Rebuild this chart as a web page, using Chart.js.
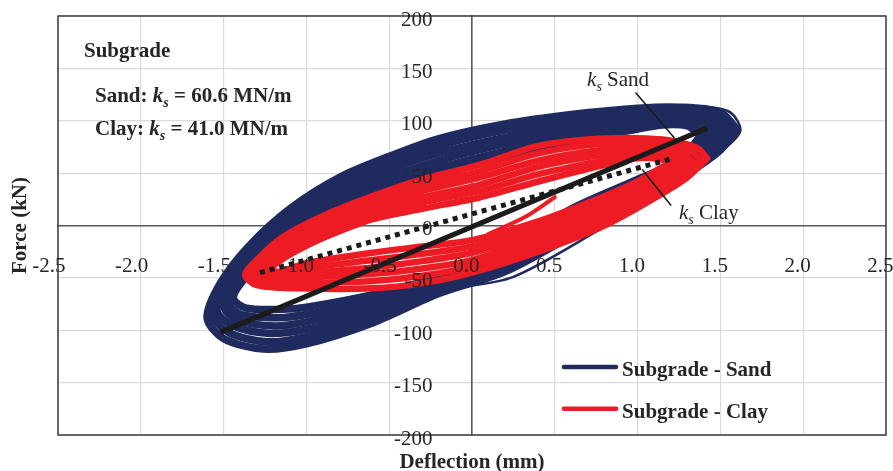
<!DOCTYPE html>
<html>
<head>
<meta charset="utf-8">
<title>Subgrade force–deflection loops</title>
<script src="https://cdn.jsdelivr.net/npm/chart.js@4.4.1/dist/chart.umd.min.js"></script>
<style>
  html, body { margin: 0; padding: 0; background: #ffffff; }
  #wrap { width: 893px; height: 471px; }
</style>
</head>
<body>
<div id="wrap"><canvas id="chart" width="893" height="471"></canvas></div>
<script>
// Axis ticks
const xTickValues = [-2.5, -2.0, -1.5, -1.0, -0.5, 0.0, 0.5, 1.0, 1.5, 2.0, 2.5];
const xTickLabels = ['-2.5', '-2.0', '-1.5', '-1.0', '-0.5', '0.0', '0.5', '1.0', '1.5', '2.0', '2.5'];
const yTickValues = [-200, -150, -100, -50, 0, 50, 100, 150, 200];
const yTickLabels = ['-200', '-150', '-100', '-50', '0', '50', '100', '150', '200'];

// Sand subgrade: load cycles, [deflection mm, force kN]
const sandCycle1 = [[1.60,92],[1.50,108],[1.25,113],[1.00,112],[0.60,106],[0.20,97],[-0.20,83],[-0.50,66],[-0.80,46],[-1.10,16],[-1.35,-20],[-1.52,-55],[-1.60,-88],[-1.50,-108],[-1.26,-118],[-1.00,-113],[-0.60,-93],[-0.20,-65],[0.20,-44],[0.60,-10],[1.00,26],[1.30,50],[1.50,72],[1.60,92]];
const sandCycle2 = [[1.56,91],[1.46,105],[1.23,110],[1.00,108],[0.60,101],[0.20,91],[-0.20,76],[-0.50,59],[-0.80,40],[-1.10,10],[-1.34,-23],[-1.50,-55],[-1.57,-84],[-1.47,-102],[-1.24,-111],[-1.00,-106],[-0.60,-88],[-0.20,-62],[0.20,-39],[0.60,-5],[1.00,30],[1.28,52],[1.46,72],[1.56,91]];
const sandCycle3 = [[1.51,90],[1.42,103],[1.21,106],[1.00,104],[0.60,96],[0.20,84],[-0.20,69],[-0.50,53],[-0.80,33],[-1.10,4],[-1.32,-26],[-1.47,-55],[-1.54,-81],[-1.44,-96],[-1.22,-103],[-1.00,-99],[-0.60,-83],[-0.20,-59],[0.20,-34],[0.60,0],[1.00,33],[1.26,53],[1.43,73],[1.51,90]];
const sandCycle4 = [[1.47,88],[1.38,100],[1.19,103],[1.00,100],[0.60,90],[0.20,78],[-0.20,62],[-0.50,46],[-0.80,27],[-1.10,-2],[-1.31,-30],[-1.45,-56],[-1.50,-77],[-1.42,-90],[-1.19,-96],[-1.00,-92],[-0.60,-77],[-0.20,-56],[0.20,-30],[0.60,6],[1.00,37],[1.24,55],[1.39,73],[1.47,88]];
const sandCycle5 = [[1.42,87],[1.34,98],[1.17,99],[1.00,96],[0.60,85],[0.20,71],[-0.20,55],[-0.50,40],[-0.80,20],[-1.10,-8],[-1.29,-33],[-1.42,-56],[-1.47,-74],[-1.39,-85],[-1.17,-88],[-1.00,-85],[-0.60,-72],[-0.20,-52],[0.20,-25],[0.60,11],[1.00,40],[1.22,56],[1.36,74],[1.42,87]];
const sandCycle6 = [[1.38,86],[1.30,95],[1.15,96],[1.00,92],[0.60,80],[0.20,65],[-0.20,48],[-0.50,33],[-0.80,14],[-1.10,-14],[-1.28,-36],[-1.40,-56],[-1.44,-70],[-1.36,-79],[-1.15,-80],[-1.00,-78],[-0.60,-66],[-0.20,-49],[0.20,-22],[0.60,16],[1.00,44],[1.20,58],[1.32,74],[1.38,86]];
const sandStray = [[-1.30,-117],[-0.80,-104],[-0.40,-78],[-0.15,-62],[0.25,-49],[0.77,-4],[1.07,24],[1.32,48],[1.50,70],[1.62,90],[1.56,108],[1.40,114]];

// Clay subgrade: load cycles, [deflection mm, force kN]
const clayCycle1 = [[1.42,64],[1.36,74],[1.15,82],[0.80,83],[0.40,76],[0.05,58],[-0.30,44],[-0.60,28],[-0.90,9],[-1.15,-12],[-1.30,-33],[-1.37,-47],[-1.30,-57],[-1.05,-60],[-0.60,-60],[-0.30,-55],[0.00,-45],[0.40,-25],[0.80,0],[1.10,26],[1.30,46],[1.42,64]];
const clayCycle2 = [[1.38,63],[1.31,72],[1.12,78],[0.79,78],[0.40,69],[0.05,52],[-0.30,38],[-0.60,24],[-0.90,5],[-1.14,-15],[-1.28,-34],[-1.34,-46],[-1.27,-54],[-1.04,-55],[-0.60,-53],[-0.30,-48],[0.00,-39],[0.40,-19],[0.80,6],[1.08,29],[1.27,48],[1.38,63]];
const clayCycle3 = [[1.33,62],[1.26,70],[1.08,75],[0.78,72],[0.40,62],[0.05,46],[-0.30,33],[-0.60,19],[-0.90,1],[-1.12,-18],[-1.25,-34],[-1.31,-45],[-1.24,-52],[-1.03,-50],[-0.60,-46],[-0.30,-41],[0.00,-33],[0.40,-13],[0.80,11],[1.06,32],[1.23,49],[1.33,62]];
const clayCycle4 = [[1.29,62],[1.22,68],[1.05,71],[0.77,67],[0.40,56],[0.05,39],[-0.30,27],[-0.60,15],[-0.90,-4],[-1.11,-20],[-1.23,-35],[-1.28,-44],[-1.22,-49],[-1.02,-46],[-0.60,-40],[-0.30,-34],[0.00,-26],[0.40,-8],[0.80,17],[1.04,36],[1.20,51],[1.29,62]];
const clayCycle5 = [[1.24,61],[1.17,66],[1.01,68],[0.76,61],[0.40,49],[0.05,33],[-0.30,22],[-0.60,10],[-0.90,-8],[-1.09,-23],[-1.20,-35],[-1.25,-43],[-1.19,-47],[-1.01,-41],[-0.60,-33],[-0.30,-27],[0.00,-20],[0.40,-2],[0.80,22],[1.02,39],[1.16,52],[1.24,61]];
const clayCycle6 = [[1.20,60],[1.12,64],[0.98,64],[0.75,56],[0.40,42],[0.05,27],[-0.30,16],[-0.60,6],[-0.90,-12],[-1.08,-26],[-1.18,-36],[-1.22,-42],[-1.16,-44],[-1.00,-36],[-0.60,-26],[-0.30,-20],[0.00,-14],[0.40,4],[0.80,28],[1.00,42],[1.13,54],[1.20,60]];
const clayTail = [[0.10,-8],[0.32,8],[0.50,27]];

// Secant stiffness lines and their callout leaders
const ksSandLine = [[-1.52,-102],[1.42,93]];
const ksClayLine = [[-1.28,-45],[1.21,64]];
const ksSandLeader = [[0.99,126.5],[1.22,84]];
const ksClayLeader = [[1.03,53],[1.20,19.5]];

const seriesNames = ['Subgrade - Sand', 'Subgrade - Clay'];
const SAND = '#1f2a5e';
const CLAY = '#ed1c24';
const INK = '#1b1b1b';
const SERIF = '"Liberation Serif", "Times New Roman", serif';

function toXY(pts) { return pts.map(p => ({ x: p[0], y: p[1] })); }

function trace(pts, color, width, order, extra) {
  return Object.assign({
    data: toXY(pts),
    showLine: true,
    borderColor: color,
    backgroundColor: color,
    borderWidth: width,
    pointRadius: 0,
    pointHoverRadius: 0,
    tension: 0.3,
    fill: false,
    borderJoinStyle: 'round',
    borderCapStyle: 'round',
    order: order
  }, extra || {});
}

const datasets = [
  trace(ksSandLine, INK, 5, 0, { tension: 0, borderCapStyle: 'butt' }),
  trace(ksClayLine, INK, 5, 0, { tension: 0, borderCapStyle: 'butt', borderDash: [5, 5] }),
  trace(ksSandLeader, INK, 1.6, 0, { tension: 0 }),
  trace(ksClayLeader, INK, 1.6, 0, { tension: 0 }),
  trace(clayCycle1, CLAY, 6.5, 1),
  trace(clayCycle2, CLAY, 6.5, 1),
  trace(clayCycle3, CLAY, 6.5, 1),
  trace(clayCycle4, CLAY, 6.5, 1),
  trace(clayCycle5, CLAY, 6.5, 1),
  trace(clayCycle6, CLAY, 6.5, 1),
  trace(clayTail, CLAY, 4, 1),
  trace(sandCycle1, SAND, 7.5, 2),
  trace(sandCycle2, SAND, 7.5, 2),
  trace(sandCycle3, SAND, 7.5, 2),
  trace(sandCycle4, SAND, 7.5, 2),
  trace(sandCycle5, SAND, 7.5, 2),
  trace(sandCycle6, SAND, 7.5, 2),
  trace(sandStray, SAND, 2.5, 2)
];

// Draws runs of text with different fonts on one baseline
function richText(ctx, x, y, parts) {
  let cx = x;
  parts.forEach(p => {
    ctx.font = p.font;
    ctx.fillText(p.text, cx, y + (p.dy || 0));
    cx += ctx.measureText(p.text).width;
  });
}

const decorations = {
  id: 'decorations',
  afterDraw(chart) {
    const { ctx, chartArea: a, scales } = chart;
    const xs = scales.x, ys = scales.y;
    const zx = xs.getPixelForValue(0);
    const zy = ys.getPixelForValue(0);
    ctx.save();

    // plot frame
    ctx.strokeStyle = '#3c3c3c';
    ctx.lineWidth = 1.5;
    ctx.strokeRect(a.left, a.top, a.right - a.left, a.bottom - a.top);

    // tick labels sit beside the axes crossing at the origin
    ctx.fillStyle = '#262626';
    ctx.font = '21px ' + SERIF;
    ctx.textBaseline = 'alphabetic';
    ctx.textAlign = 'right';
    xTickValues.forEach((v, i) => ctx.fillText(xTickLabels[i], xs.getPixelForValue(v) + 7.5, zy + 46));
    yTickValues.forEach((v, i) => ctx.fillText(yTickLabels[i], zx - 39.5, ys.getPixelForValue(v) + 9.5));

    // axis titles
    ctx.textAlign = 'center';
    ctx.font = 'bold 21px ' + SERIF;
    ctx.fillText('Deflection (mm)', (a.left + a.right) / 2, a.bottom + 33);
    ctx.save();
    ctx.translate(26, (a.top + a.bottom) / 2);
    ctx.rotate(-Math.PI / 2);
    ctx.fillText('Force (kN)', 0, 0);
    ctx.restore();

    // header notes
    ctx.textAlign = 'left';
    const B = 'bold 21px ' + SERIF;
    const BI = 'italic bold 21px ' + SERIF;
    const BIs = 'italic bold 14px ' + SERIF;
    richText(ctx, a.left + 26, a.top + 41, [{ text: 'Subgrade', font: B }]);
    richText(ctx, a.left + 37, a.top + 86, [
      { text: 'Sand: ', font: B }, { text: 'k', font: BI }, { text: 's', font: BIs, dy: 5 },
      { text: ' = 60.6 MN/m', font: B }
    ]);
    richText(ctx, a.left + 37, a.top + 118.5, [
      { text: 'Clay: ', font: B }, { text: 'k', font: BI }, { text: 's', font: BIs, dy: 5 },
      { text: ' = 41.0 MN/m', font: B }
    ]);

    // stiffness callouts
    const R = '21px ' + SERIF;
    const I = 'italic 21px ' + SERIF;
    const Is = 'italic 14px ' + SERIF;
    richText(ctx, xs.getPixelForValue(0.695), ys.getPixelForValue(133), [
      { text: 'k', font: I }, { text: 's', font: Is, dy: 5 }, { text: ' Sand', font: R }
    ]);
    richText(ctx, xs.getPixelForValue(1.25), ys.getPixelForValue(6), [
      { text: 'k', font: I }, { text: 's', font: Is, dy: 5 }, { text: ' Clay', font: R }
    ]);

    // legend
    const legendColors = [SAND, CLAY];
    const legendF = [-135, -175];
    legendColors.forEach((c, i) => {
      const ly = ys.getPixelForValue(legendF[i]);
      ctx.strokeStyle = c;
      ctx.lineWidth = 4.5;
      ctx.lineCap = 'round';
      ctx.beginPath();
      ctx.moveTo(xs.getPixelForValue(0.555), ly);
      ctx.lineTo(xs.getPixelForValue(0.87), ly);
      ctx.stroke();
      ctx.fillStyle = '#262626';
      ctx.font = B;
      ctx.fillText(seriesNames[i], xs.getPixelForValue(0.906), ly + 9.5);
    });

    ctx.restore();
  }
};

new Chart(document.getElementById('chart'), {
  type: 'scatter',
  data: { datasets: datasets },
  options: {
    responsive: false,
    devicePixelRatio: 1,
    animation: false,
    layout: { padding: { left: 58, top: 16, right: 7, bottom: 36 } },
    plugins: { legend: { display: false }, tooltip: { enabled: false } },
    scales: {
      x: {
        type: 'linear',
        position: { y: 0 },
        min: -2.5, max: 2.5,
        afterBuildTicks: s => { s.ticks = xTickValues.map(v => ({ value: v })); },
        ticks: { display: false },
        grid: { color: '#dadada', lineWidth: 1.2, drawTicks: false },
        border: { color: '#5a5a5a', width: 1.6 }
      },
      y: {
        type: 'linear',
        position: { x: 0 },
        min: -200, max: 200,
        afterBuildTicks: s => { s.ticks = yTickValues.map(v => ({ value: v })); },
        ticks: { display: false },
        grid: { color: '#dadada', lineWidth: 1.2, drawTicks: false },
        border: { color: '#5a5a5a', width: 1.6 }
      }
    }
  },
  plugins: [decorations]
});
</script>
</body>
</html>
